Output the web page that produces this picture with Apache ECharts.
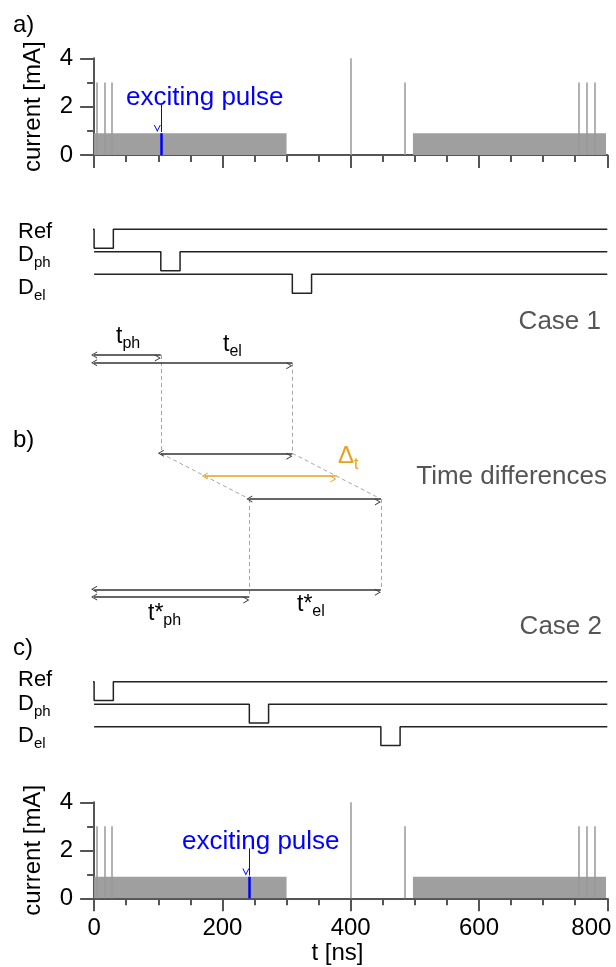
<!DOCTYPE html>
<html><head><meta charset="utf-8">
<script src="https://cdn.jsdelivr.net/npm/echarts@6/dist/echarts.min.js"></script>
<style>html,body{margin:0;padding:0;background:#fff}#c{width:616px;height:967px}</style>
</head><body><div id="c"></div>
<script>
// ---------------- data ----------------
const xTickValues = [0, 200, 400, 600, 800];          // ns
const yTickValues = [0, 2, 4];                        // mA
const fillLevel = 0.9;                                // mA plateau
const fillSpans = [[0, 300], [497, 798]];             // ns
const spikeTimes = [4, 16, 28, 400, 485, 756, 768, 780];   // ns
const spikeHeights = [3, 3, 3, 4, 3, 3, 3, 3];             // mA
const pulseWidth = 30;                                // ns
const refLead = -12;                                  // ns (start of Ref trace)
const case1 = { ref: 0, ph: 104, el: 309 };           // ns
const case2 = { ref: 0, ph: 242, el: 447 };           // ns
const excitingArrowTop = [2.07, 2.08];                // mA (top panel, bottom panel)
const signalNames = ['Ref', 'ph', 'el'];
const signalLevels = [0, 1, 2];                       // trace rows
const pulseDepth = 0.84;                              // trace rows
// rows of the b) time-difference diagram
const rowTph = 1.5, rowTel = 2.27, rowMidTop = 11.33, rowDelta = 13.6, rowMidBot = 15.9, rowTStarEl = 24.93, rowTStarPh = 25.7;

// ---------------- layout / style ----------------
const FONT = 'Liberation Sans, Arial, sans-serif';
const gl = 94.1, gr = 8.7;
const axisCol = '#555';
const arrowPath = 'path://M0,10 L5,0 L10,10 L8.6,10 L5,2.8 L1.4,10 Z';

const chart = echarts.init(document.getElementById('c'), null, { renderer: 'canvas' });

function visibleX(gi, showLabels) {
  return {
    gridIndex: gi, type: 'value', min: 0, max: 800, interval: 200,
    axisLine: { lineStyle: { color: axisCol, width: 2 } },
    axisTick: { length: 13, lineStyle: { color: axisCol, width: 2 } },
    minorTick: { show: true, splitNumber: 4, length: 7, lineStyle: { color: axisCol, width: 2 } },
    splitLine: { show: false }, minorSplitLine: { show: false },
    axisLabel: { show: showLabels, fontSize: 24, color: '#000', fontFamily: FONT, margin: 18,
      customValues: xTickValues,
      formatter: v => (v === 800 ? '{r|' + v + '}' : String(v)),
      rich: { r: { fontSize: 24, color: '#000', fontFamily: FONT, padding: [0, 32, 0, 0] } } }
  };
}
function visibleY(gi) {
  return {
    gridIndex: gi, type: 'value', min: 0, max: 4, interval: 2,
    axisLine: { lineStyle: { color: axisCol, width: 2 } },
    axisTick: { length: 14, lineStyle: { color: axisCol, width: 2 } },
    minorTick: { show: true, splitNumber: 2, length: 7, lineStyle: { color: axisCol, width: 2 } },
    splitLine: { show: false }, minorSplitLine: { show: false },
    axisLabel: { fontSize: 24, color: '#000', fontFamily: FONT, margin: 21, customValues: yTickValues },
    name: 'current [mA]', nameLocation: 'middle', nameGap: 49,
    nameTextStyle: { fontSize: 24, color: '#000', fontFamily: FONT }
  };
}
function hiddenX(gi) { return { gridIndex: gi, type: 'value', min: 0, max: 800, show: false }; }
function hiddenY(gi, max) { return { gridIndex: gi, type: 'value', min: 0, max: max, inverse: true, show: false }; }

const series = [];
// current panels (grid 0 top, grid 1 bottom)
[[0, case1, excitingArrowTop[0]], [1, case2, excitingArrowTop[1]]].forEach(([gi, cs, arrTop]) => {
  fillSpans.forEach(sp => {
    series.push({ type: 'line', xAxisIndex: gi, yAxisIndex: gi, symbol: 'none', silent: true,
      data: [[sp[0], fillLevel], [sp[1], fillLevel]],
      lineStyle: { width: 0 }, areaStyle: { color: '#9f9f9f', opacity: 1 } });
  });
  series.push({ type: 'line', xAxisIndex: gi, yAxisIndex: gi, data: [], silent: true,
    markLine: { silent: true, symbol: 'none', label: { show: false }, animation: false,
      lineStyle: { color: '#999', width: 1.5, type: 'solid' },
      data: spikeTimes.map((t, i) => [{ coord: [t, 0] }, { coord: [t, spikeHeights[i]] }]) } });
  // exciting pulse marker
  series.push({ type: 'line', xAxisIndex: gi, yAxisIndex: gi, data: [], silent: true,
    markLine: { silent: true, symbol: 'none', label: { show: false }, animation: false,
      lineStyle: { color: '#0000ff', width: 2.5, type: 'solid' },
      data: [[{ coord: [cs.ph, 0] }, { coord: [cs.ph, fillLevel] }]] } });
  series.push({ type: 'line', xAxisIndex: gi, yAxisIndex: gi, data: [], silent: true,
    markLine: { silent: true, symbol: ['none', arrowPath], symbolSize: [7, 7], symbolOffset: [0, 3.5],
      label: { show: false }, animation: false,
      lineStyle: { color: '#0000ff', width: 1, type: 'solid' },
      data: [[{ coord: [cs.ph, arrTop] }, { coord: [cs.ph, fillLevel + 0.05] }]] } });
});

// timing traces (grid 2 case 1, grid 4 case 2)
function wave(t, lvl, xStart) {
  return [[xStart, lvl], [t, lvl], [t, lvl + pulseDepth], [t + pulseWidth, lvl + pulseDepth], [t + pulseWidth, lvl], [800, lvl]];
}
[[2, case1], [4, case2]].forEach(([gi, cs]) => {
  const times = [cs.ref, cs.ph, cs.el];
  times.forEach((t, i) => {
    series.push({ type: 'line', xAxisIndex: gi, yAxisIndex: gi, symbol: 'none', silent: true, clip: false,
      name: signalNames[i],
      data: wave(t, signalLevels[i], i === 0 ? refLead : 0),
      lineStyle: { color: '#222', width: 1.5 } });
  });
});

// b) diagram (grid 3)
const blackArrows = [
  [0, case1.ph, rowTph], [0, case1.el, rowTel],
  [case1.ph, case1.el, rowMidTop], [case2.ph, case2.el, rowMidBot],
  [0, case2.el, rowTStarEl], [0, case2.ph, rowTStarPh]
];
const f = (rowDelta - rowMidTop) / (rowMidBot - rowMidTop);
const deltaArrow = [case1.ph + (case2.ph - case1.ph) * f, case1.el + (case2.el - case1.el) * f, rowDelta];
const dashed = [
  [[case1.ph, rowTph], [case1.ph, rowMidTop]],
  [[case1.el, rowTel], [case1.el, rowMidTop]],
  [[case1.ph, rowMidTop], [case2.ph, rowMidBot]],
  [[case1.el, rowMidTop], [case2.el, rowMidBot]],
  [[case2.ph, rowMidBot], [case2.ph, rowTStarPh]],
  [[case2.el, rowMidBot], [case2.el, rowTStarEl]]
];
series.push({ type: 'line', xAxisIndex: 3, yAxisIndex: 3, data: [], silent: true,
  markLine: { silent: true, symbol: 'none', label: { show: false }, animation: false,
    lineStyle: { color: '#a8a8a8', width: 1, type: [4, 3] },
    data: dashed.map(d => [{ coord: d[0] }, { coord: d[1] }]) } });
series.push({ type: 'line', xAxisIndex: 3, yAxisIndex: 3, data: [], silent: true,
  markLine: { silent: true, symbol: [arrowPath, arrowPath], symbolSize: [7, 6], symbolOffset: [0, 3],
    label: { show: false }, animation: false,
    lineStyle: { color: '#333', width: 1.5, type: 'solid' },
    data: blackArrows.map(a => [{ coord: [a[0], a[2]] }, { coord: [a[1], a[2]] }]) } });
series.push({ type: 'line', xAxisIndex: 3, yAxisIndex: 3, data: [], silent: true,
  markLine: { silent: true, symbol: [arrowPath, arrowPath], symbolSize: [7, 6], symbolOffset: [0, 3],
    label: { show: false }, animation: false,
    lineStyle: { color: '#e8a020', width: 1.5, type: 'solid' },
    data: [[{ coord: [deltaArrow[0], deltaArrow[2]] }, { coord: [deltaArrow[1], deltaArrow[2]] }]] } });

// ---------------- text ----------------
const measureCtx = document.createElement('canvas').getContext('2d');
function textW(s, size) { measureCtx.font = size + 'px ' + FONT; return measureCtx.measureText(s).width; }
function txt(s, x, y, size, color, align) {
  return { type: 'text', x: x, y: y, silent: true,
    style: { text: s, fontSize: size, fontFamily: FONT, fill: color || '#000', align: align || 'left', verticalAlign: 'middle' } };
}
function subTxt(main, sub, x, y, size, subSize, dy, color) {
  return [txt(main, x, y, size, color), txt(sub, x + textW(main, size), y + dy, subSize, color)];
}
const graphics = [
  txt('a)', 13, 25, 24), txt('b)', 13, 440, 24), txt('c)', 13, 648, 24),
  txt('exciting pulse', 126, 98, 26, '#0000ff'),
  txt('exciting pulse', 182, 842, 26, '#0000ff'),
  txt('Ref', 18, 232, 22),
  ...subTxt('D', 'ph', 18, 255, 22, 15, 8),
  ...subTxt('D', 'el', 18, 288, 22, 15, 8),
  txt('Case 1', 601, 322, 26, '#555', 'right'),
  ...subTxt('t', 'ph', 116, 337, 23, 16, 7),
  ...subTxt('t', 'el', 223, 345, 23, 16, 7),
  ...subTxt('Δ', 't', 338, 456, 24, 16, 9, '#e8a020'),
  txt('Time differences', 607, 477, 26, '#555', 'right'),
  ...subTxt('t*', 'ph', 148, 614, 23, 16, 7),
  ...subTxt('t*', 'el', 297, 605, 23, 16, 7),
  txt('Case 2', 602, 627, 26, '#555', 'right'),
  txt('Ref', 18, 680, 22),
  ...subTxt('D', 'ph', 18, 704, 22, 15, 8),
  ...subTxt('D', 'el', 18, 736, 22, 15, 8),
  txt('t [ns]', 337.5, 953, 24, '#000', 'center')
];

const gridBase = { outerBoundsMode: 'none', containLabel: false };
chart.setOption({
  animation: false,
  backgroundColor: '#fff',
  grid: [
    Object.assign({ left: gl, right: gr, top: 58.3, height: 96.7 }, gridBase),
    Object.assign({ left: gl, right: gr, top: 802.3, height: 96 }, gridBase),
    Object.assign({ left: gl, right: gr, top: 229.3, height: 67.5 }, gridBase),
    Object.assign({ left: gl, right: gr, top: 340, height: 270 }, gridBase),
    Object.assign({ left: gl, right: gr, top: 681.7, height: 67.5 }, gridBase)
  ],
  xAxis: [visibleX(0, false), visibleX(1, true), hiddenX(2), hiddenX(3), hiddenX(4)],
  yAxis: [visibleY(0), visibleY(1), hiddenY(2, 3), hiddenY(3, 27), hiddenY(4, 3)],
  series: series,
  graphic: graphics
});
</script></body></html>
